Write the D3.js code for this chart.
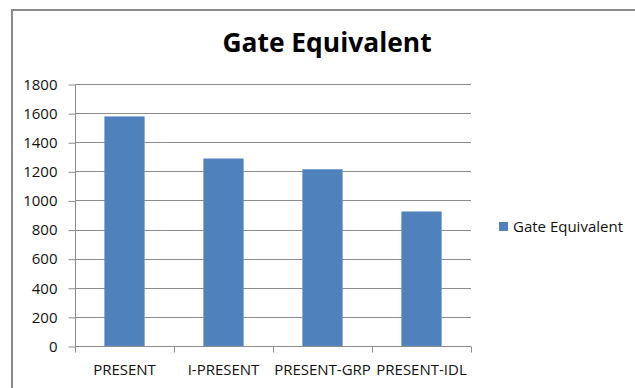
<!DOCTYPE html>
<html>
<head>
<meta charset="utf-8">
<script src="https://cdn.jsdelivr.net/npm/d3@7"></script>
<style>
  html, body { margin: 0; padding: 0; background: #fff; }
  svg { display: block; }
  text { font-family: "Open Sans", "Noto Sans", sans-serif; }
</style>
</head>
<body>
<svg id="chart" width="635" height="388"></svg>
<script>
// Gate equivalent per cipher design
const categories = ["PRESENT", "I-PRESENT", "PRESENT-GRP", "PRESENT-IDL"];
const gateEquivalent = [1575, 1286, 1213, 922];
const yTicks = [0, 200, 400, 600, 800, 1000, 1200, 1400, 1600, 1800];
const seriesName = "Gate Equivalent";
const chartTitle = "Gate Equivalent";

const svg = d3.select("#chart");
const W = 635, H = 388;
const plot = { left: 75, right: 471, top: 84, bottom: 346 };
const labelSize = 15;

// chart frame (top and left edges)
svg.append("line").attr("x1", 11).attr("x2", W).attr("y1", 10).attr("y2", 10)
  .attr("stroke", "#8a8a8a").attr("stroke-width", 2);
svg.append("line").attr("x1", 12).attr("x2", 12).attr("y1", 10).attr("y2", H)
  .attr("stroke", "#8a8a8a").attr("stroke-width", 2);

const x = d3.scaleBand().domain(categories).range([plot.left, plot.right]).padding(0);
const y = d3.scaleLinear().domain([0, 1800]).range([plot.bottom, plot.top]);

// horizontal gridlines
svg.append("g").selectAll("line").data(yTicks.filter(t => t > 0)).join("line")
  .attr("x1", plot.left).attr("x2", plot.right)
  .attr("y1", d => Math.round(y(d)) + 0.5).attr("y2", d => Math.round(y(d)) + 0.5)
  .attr("stroke", "#8c8c8c").attr("stroke-width", 1);

// bars
const barFrac = 0.4;
svg.append("g").selectAll("rect").data(categories).join("rect")
  .attr("x", d => x(d) + x.bandwidth() * (1 - barFrac) / 2)
  .attr("width", x.bandwidth() * barFrac)
  .attr("y", (d, i) => y(gateEquivalent[i]))
  .attr("height", (d, i) => y(0) - y(gateEquivalent[i]))
  .attr("fill", "#4f81bd")
  .attr("stroke", "#6c97cc").attr("stroke-width", 0.6);

// y axis
const yAxis = d3.axisLeft(y).tickValues(yTicks).tickSize(7).tickPadding(11)
  .tickFormat(d3.format("d"));
const gy = svg.append("g").attr("transform", `translate(${plot.left + 0.5},0.5)`).call(yAxis);
gy.select(".domain").attr("stroke", "#8c8c8c").attr("d", `M0,${plot.top}V${plot.bottom}`);
gy.selectAll(".tick line").attr("stroke", "#8c8c8c");
gy.selectAll(".tick text").attr("font-size", labelSize).attr("fill", "#111")
  .attr("font-family", "'Open Sans', sans-serif");

// x axis with ticks at band boundaries
const gx = svg.append("g").attr("transform", `translate(0,${Math.round(plot.bottom) + 0.5})`);
gx.append("line").attr("x1", plot.left).attr("x2", plot.right)
  .attr("stroke", "#8c8c8c");
const bounds = categories.map(c => x(c)).concat([x(categories[categories.length - 1]) + x.bandwidth()]);
gx.selectAll("line.tk").data(bounds).join("line").attr("class", "tk")
  .attr("x1", d => Math.round(d) + 0.5).attr("x2", d => Math.round(d) + 0.5)
  .attr("y1", 0).attr("y2", 6).attr("stroke", "#8c8c8c");
gx.selectAll("text").data(categories).join("text")
  .attr("x", d => x(d) + x.bandwidth() / 2)
  .attr("y", 28.5)
  .attr("text-anchor", "middle")
  .attr("font-size", labelSize).attr("fill", "#111")
  .text(d => d);

// title
svg.append("text").attr("x", 327).attr("y", 52).attr("text-anchor", "middle")
  .attr("font-size", 26.4).attr("font-weight", "bold").attr("fill", "#000")
  .text(chartTitle);

// legend
const lg = svg.append("g").attr("transform", "translate(499,222)");
lg.append("rect").attr("width", 9).attr("height", 9).attr("fill", "#4f81bd");
lg.append("text").attr("x", 14).attr("y", 10).attr("font-size", labelSize).attr("fill", "#111")
  .text(seriesName);
</script>
</body>
</html>
